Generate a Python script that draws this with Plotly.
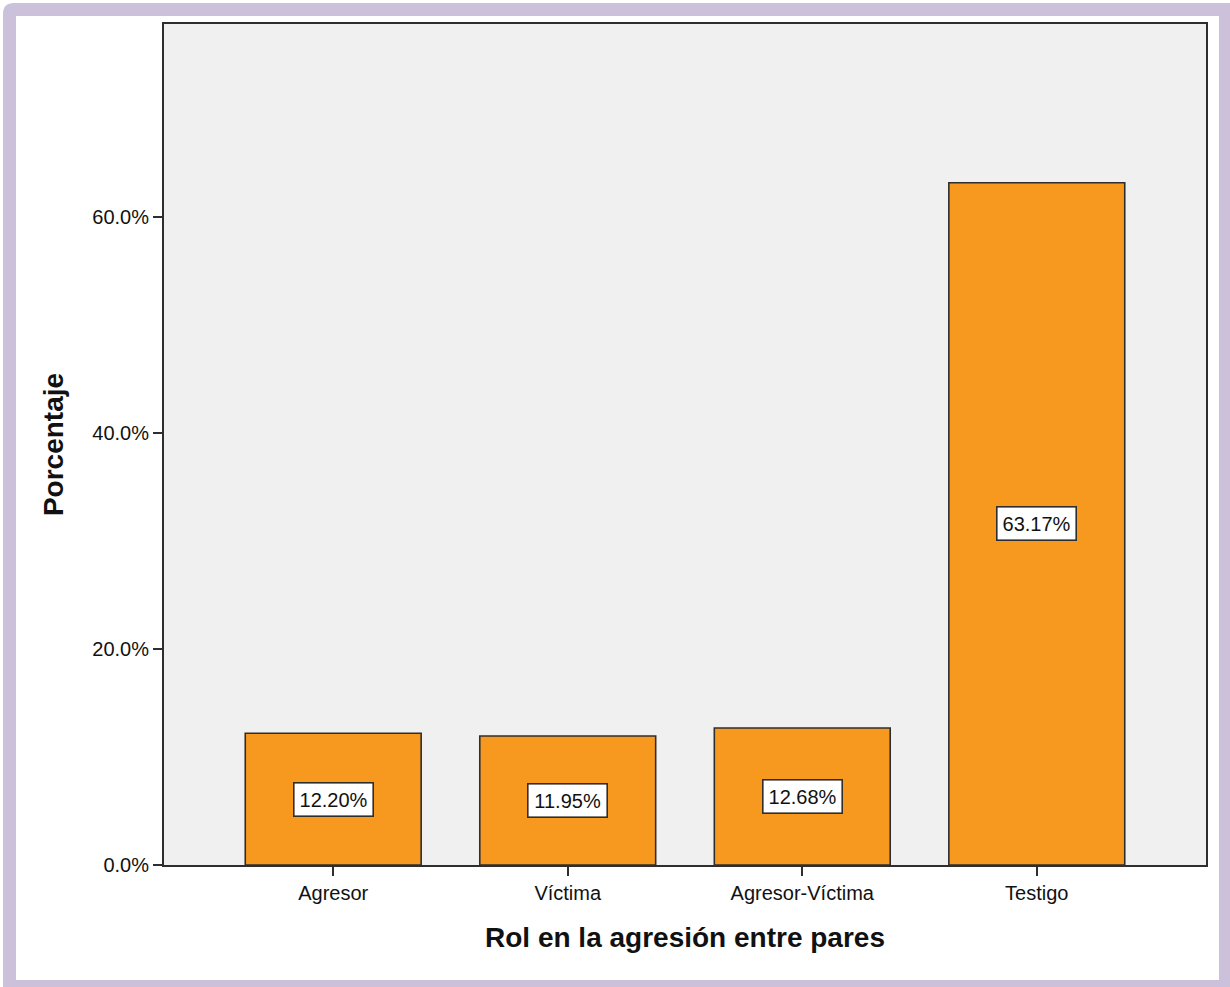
import plotly.graph_objects as go

# Data
categories = ["Agresor", "Víctima", "Agresor-Víctima", "Testigo"]
percentages = [12.20, 11.95, 12.68, 63.17]
y_tick_values = [0, 20, 40, 60]
y_tick_labels = ["0.0%", "20.0%", "40.0%", "60.0%"]

# Figure geometry (pixels)
FIG_W, FIG_H = 1230, 987
M_L, M_R, M_T, M_B = 164, 24, 24, 122
PLOT_W = FIG_W - M_L - M_R
PLOT_H = FIG_H - M_T - M_B


def px(x):
    return (x - M_L) / PLOT_W


def py(y):
    return (FIG_H - M_B - y) / PLOT_H


FONT = "Liberation Sans, Arial, sans-serif"
BAR_COLOR = "#f8991f"
EDGE = "#2e2e2e"
TEXT = "#111111"

fig = go.Figure()
fig.add_trace(
    go.Bar(
        x=categories,
        y=percentages,
        marker=dict(color=BAR_COLOR, line=dict(color=EDGE, width=1.6)),
        hoverinfo="skip",
    )
)

# value labels in boxed tags at half bar height
for cat, val in zip(categories, percentages):
    fig.add_annotation(
        x=cat,
        y=val / 2,
        text=f"{val:.2f}%",
        showarrow=False,
        font=dict(family=FONT, size=20, color=TEXT),
        bgcolor="white",
        bordercolor=EDGE,
        borderwidth=1.6,
        borderpad=2,
        width=74,
        height=28,
        align="center",
        valign="middle",
        xanchor="center",
        yanchor="middle",
    )

# lavender frame, white card and grey plotting panel
r = 11
frame_path = (
    f"M {px(3)},{py(3 + r)} Q {px(3)},{py(3)} {px(3 + r)},{py(3)} "
    f"L {px(FIG_W + 5)},{py(3)} L {px(FIG_W + 5)},{py(FIG_H + 5)} "
    f"L {px(3)},{py(FIG_H + 5)} Z"
)
fig.add_shape(type="path", path=frame_path, xref="paper", yref="paper",
              fillcolor="#cbc1db", line=dict(width=0), layer="below")
fig.add_shape(type="rect", xref="paper", yref="paper",
              x0=px(16), x1=px(1219), y0=py(980), y1=py(16),
              fillcolor="white", line=dict(width=0), layer="below")
fig.add_shape(type="rect", xref="paper", yref="paper",
              x0=0, x1=1, y0=0, y1=1,
              fillcolor="#f0f0f0", line=dict(width=0), layer="below")

fig.update_layout(
    width=FIG_W,
    height=FIG_H,
    margin=dict(l=M_L, r=M_R, t=M_T, b=M_B, pad=0),
    paper_bgcolor="white",
    plot_bgcolor="rgba(0,0,0,0)",
    bargap=0.25,
    showlegend=False,
    font=dict(family=FONT, size=19, color=TEXT),
)

fig.update_xaxes(
    range=[-0.7215, 3.7215],
    showline=True,
    linecolor=EDGE,
    linewidth=2,
    mirror=True,
    ticks="outside",
    ticklen=9,
    tickwidth=2,
    tickcolor=EDGE,
    tickfont=dict(family=FONT, size=20, color=TEXT),
    showgrid=False,
    title=dict(
        text="<b>Rol en la agresión entre pares</b>",
        font=dict(family=FONT, size=28, color=TEXT),
        standoff=24,
    ),
)

fig.update_yaxes(
    range=[0, 77.87],
    tickvals=y_tick_values,
    ticktext=y_tick_labels,
    showline=True,
    linecolor=EDGE,
    linewidth=2,
    mirror=True,
    ticks="outside",
    ticklen=9,
    tickwidth=2,
    tickcolor=EDGE,
    tickfont=dict(family=FONT, size=20, color=TEXT),
    showgrid=False,
    zeroline=False,
    title=dict(
        text="<b>Porcentaje</b>",
        font=dict(family=FONT, size=28, color=TEXT),
        standoff=20,
    ),
)

fig.write_html("out.html")
